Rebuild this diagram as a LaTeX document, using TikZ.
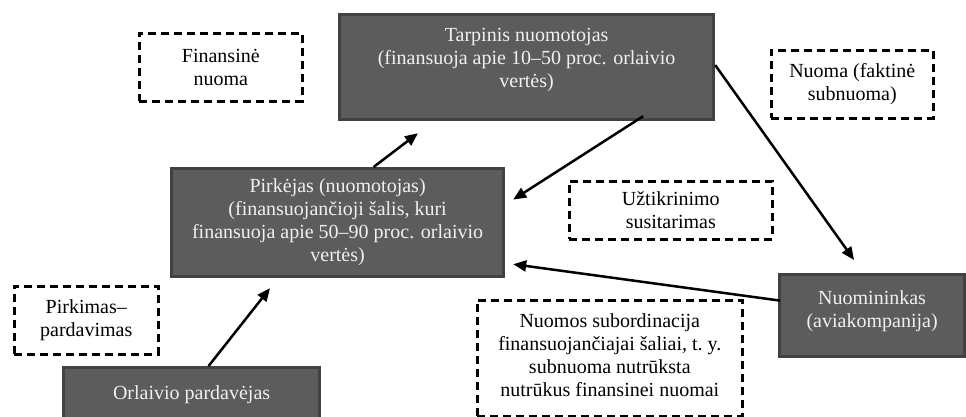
\documentclass[tikz,border=0pt]{standalone}
\usepackage{fontspec}
\setmainfont{Liberation Serif}
\usetikzlibrary{arrows.meta,calc}
\definecolor{boxfill}{HTML}{5C5C5C}
\definecolor{boxline}{HTML}{424242}
\definecolor{boxtext}{HTML}{F0F0F0}
\tikzset{
  darkbox/.style={draw=boxline, line width=3.2pt, fill=boxfill, text=boxtext,
    anchor=north west, align=center, inner sep=0pt,
    font=\fontsize{20}{23}\selectfont},
  boxlabel/.style={text=boxtext, align=center, inner sep=0pt,
    font=\fontsize{20}{23}\selectfont},
  dashbox/.style={draw=black, line width=2.6pt, dash pattern=on 8pt off 5pt,
    anchor=north west, align=center, inner sep=0pt,
    font=\fontsize{20}{23}\selectfont},
  arr/.style={line width=2.5pt, -{Triangle[length=13pt,width=11pt]}}
}
\begin{document}
\begin{tikzpicture}[x=1pt,y=-1pt]
\useasboundingbox (0,0) rectangle (966,417);
\clip (0,0) rectangle (966,417);
% dark boxes
\node[darkbox, minimum width=374pt, minimum height=105pt] (tarp) at (338,13) {};
\node[boxlabel] (tarptext) at ([yshift=7pt]tarp.center)
  {Tarpinis nuomotojas\\(finansuoja apie 10–50 proc. orlaivio\\vertės)};
\node[darkbox, minimum width=332pt, minimum height=108pt] (pirk) at (170,167)
  {Pirkėjas (nuomotojas)\\(finansuojančioji šalis, kuri\\finansuoja apie 50–90 proc. orlaivio\\vertės)};
\node[darkbox, minimum width=256pt, minimum height=54pt] (orl) at (62,366)
  {Orlaivio pardavėjas};
\node[darkbox, minimum width=185pt, minimum height=82pt] (nuom) at (778,273) {};
\node[boxlabel] (nuomtext) at ([yshift=4pt]nuom.center)
  {Nuomininkas\\(aviakompanija)};
% dashed label boxes
\node[dashbox, minimum width=163pt, minimum height=68pt] (fin) at (138,32)
  {Finansinė\\nuoma};
\node[dashbox, minimum width=162pt, minimum height=68pt] (sub) at (770,49)
  {Nuoma (faktinė\\subnuoma)};
\node[dashbox, minimum width=203pt, minimum height=58pt] (uzt) at (568,180)
  {Užtikrinimo\\susitarimas};
\node[dashbox, minimum width=144pt, minimum height=68pt] (pp) at (13,285)
  {Pirkimas–\\pardavimas};
\node[dashbox, minimum width=265pt, minimum height=116pt] (ord) at (476,299) {};
\node[inner sep=0pt, align=center, font=\fontsize{20}{23}\selectfont] (ordtext)
  at ([yshift=3pt]ord.center)
  {Nuomos subordinacija\\finansuojančiajai šaliai, t.\ y.\\subnuoma nutrūksta\\nutrūkus finansinei nuomai};
% connectors
\draw[arr] ([xshift=36pt]pirk.north) -- ([xshift=80pt,yshift=-12pt]tarp.south west);
\draw[arr] ([xshift=-72pt,yshift=5pt]tarp.south east) -- ([xshift=8pt,yshift=23pt]pirk.east);
\draw[arr] ([yshift=2pt]tarp.east) -- ([xshift=-18pt,yshift=13pt]nuom.north);
\draw[arr] ([xshift=2pt,yshift=15pt]nuom.west) -- ([xshift=8pt,yshift=14pt]pirk.south east);
\draw[arr] ([xshift=17pt]orl.north) -- ([xshift=100pt,yshift=-10pt]pirk.south west);
\end{tikzpicture}
\end{document}
